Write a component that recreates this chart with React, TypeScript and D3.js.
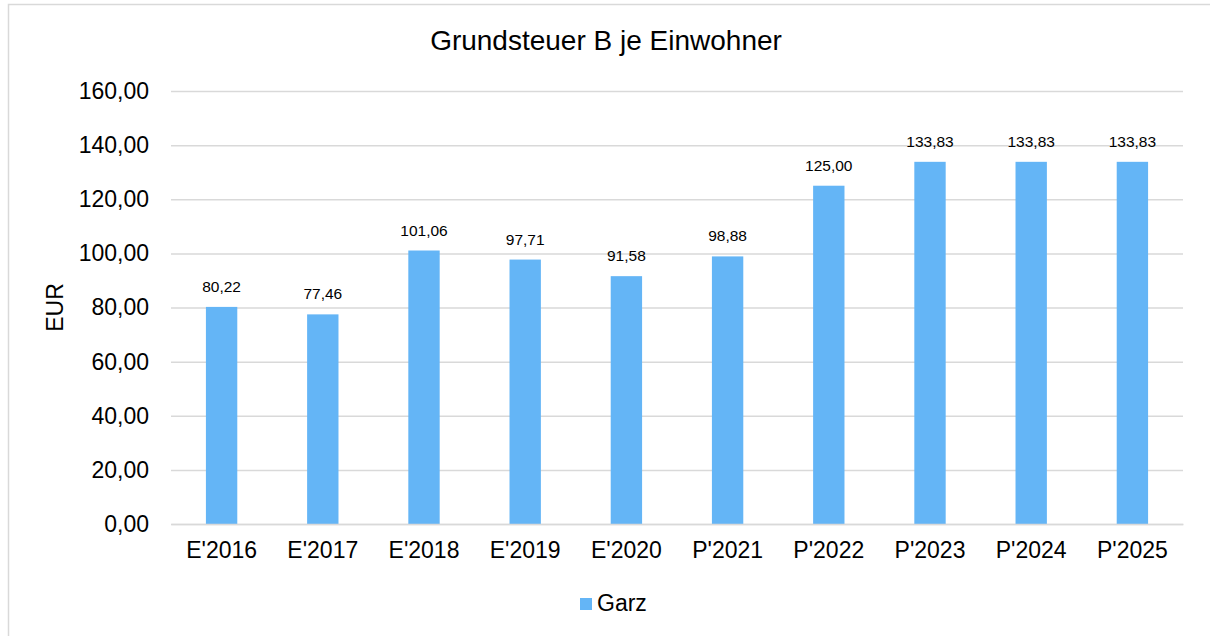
import React from 'react';
import * as d3 from 'd3';

const categories = ['E\'2016', 'E\'2017', 'E\'2018', 'E\'2019', 'E\'2020', 'P\'2021', 'P\'2022', 'P\'2023', 'P\'2024', 'P\'2025'];
const values = [80.22, 77.46, 101.06, 97.71, 91.58, 98.88, 125.0, 133.83, 133.83, 133.83];
const yTicks = [0, 20, 40, 60, 80, 100, 120, 140, 160];
const seriesName = 'Garz';
const title = 'Grundsteuer B je Einwohner';
const yLabel = 'EUR';

const width = 1210;
const height = 636;
const margin = { left: 171, right: 27, top: 91, bottom: 112 };
const barColor = '#64b5f6';
const gridColor = '#d9d9d9';
const font = '"Liberation Sans", Arial, Helvetica, sans-serif';

const de = d3.formatLocale({ decimal: ',', thousands: '.', grouping: [3], currency: ['', ' €'] });
const fmt = de.format('.2f');

const App: React.FC = () => {
  const svgRef = React.useRef<SVGSVGElement>(null);

  React.useEffect(() => {
    const svg = d3.select(svgRef.current);
    svg.selectAll('*').remove();

    const xScale = d3
      .scaleBand()
      .domain(categories)
      .range([margin.left, width - margin.right])
      .paddingInner(0.69)
      .paddingOuter(0.345)
    ;

    const yScale = d3
      .scaleLinear()
      .domain([0, 160])
      .range([height - margin.bottom, margin.top])
    ;

    // chart frame, runs off the right and bottom edge
    svg.append('rect')
      .attr('x', 8.5)
      .attr('y', 4.5)
      .attr('width', width + 10)
      .attr('height', height + 10)
      .attr('fill', 'white')
      .attr('stroke', gridColor)
      .attr('stroke-width', 1.5);

    svg.append('text')
      .attr('x', 606)
      .attr('y', 50)
      .attr('text-anchor', 'middle')
      .attr('font-size', 28)
      .text(title);

    const yAxis = svg.append('g')
      .attr('class', 'y-axis')
      .attr('transform', `translate(${margin.left}, 0)`)
      .call(d3.axisLeft(yScale).tickValues(yTicks).tickFormat((d: any) => fmt(d)).tickSize(-(width - margin.left - margin.right)).tickPadding(22));
    yAxis.select('.domain').remove();
    yAxis.selectAll('.tick line').attr('stroke', gridColor).attr('stroke-width', 1.5);
    yAxis.selectAll('.tick text')
      .attr('font-size', 23)
      .attr('font-family', font)
      .attr('fill', 'black');

    svg.append('text')
      .attr('transform', `translate(63, ${(margin.top + height - margin.bottom) / 2}) rotate(-90)`)
      .attr('text-anchor', 'middle')
      .attr('font-size', 23)
      .text(yLabel);

    svg.append('g')
      .selectAll('.bar')
      .data(values)
      .join('rect')
        .attr('class', 'bar')
        .attr('x', (_: number, i: number) => xScale(categories[i])!)
        .attr('y', (d: number) => yScale(d))
        .attr('width', xScale.bandwidth())
        .attr('height', (d: number) => yScale(0) - yScale(d))
        .attr('fill', barColor);

    svg.append('g')
      .selectAll('.value-label')
      .data(values)
      .join('text')
        .attr('class', 'value-label')
        .attr('x', (_: number, i: number) => xScale(categories[i])! + xScale.bandwidth() / 2)
        .attr('y', (d: number) => yScale(d) - 15)
        .attr('text-anchor', 'middle')
        .attr('font-size', 15.5)
        .text((d: number) => fmt(d));

    const xAxis = svg.append('g')
      .attr('class', 'x-axis')
      .attr('transform', `translate(0, ${height - margin.bottom})`)
      .call(d3.axisBottom(xScale).tickSize(0).tickPadding(18));
    xAxis.select('.domain').attr('stroke', gridColor).attr('stroke-width', 1.5);
    xAxis.selectAll('.tick text')
      .attr('font-size', 23)
      .attr('font-family', font)
      .attr('fill', 'black');

    const legend = svg.append('g').attr('transform', 'translate(580, 598)');
    legend.append('rect')
      .attr('width', 12)
      .attr('height', 12)
      .attr('fill', barColor);
    legend.append('text')
      .attr('x', 17)
      .attr('y', 13)
      .attr('font-size', 23)
      .text(seriesName);
  }, []);

  return (
    <svg
      ref={svgRef}
      width={width}
      height={height}
      style={{ position: 'absolute', left: 0, top: 0, display: 'block', fontFamily: font }}
    />
  );
};

export default App;
